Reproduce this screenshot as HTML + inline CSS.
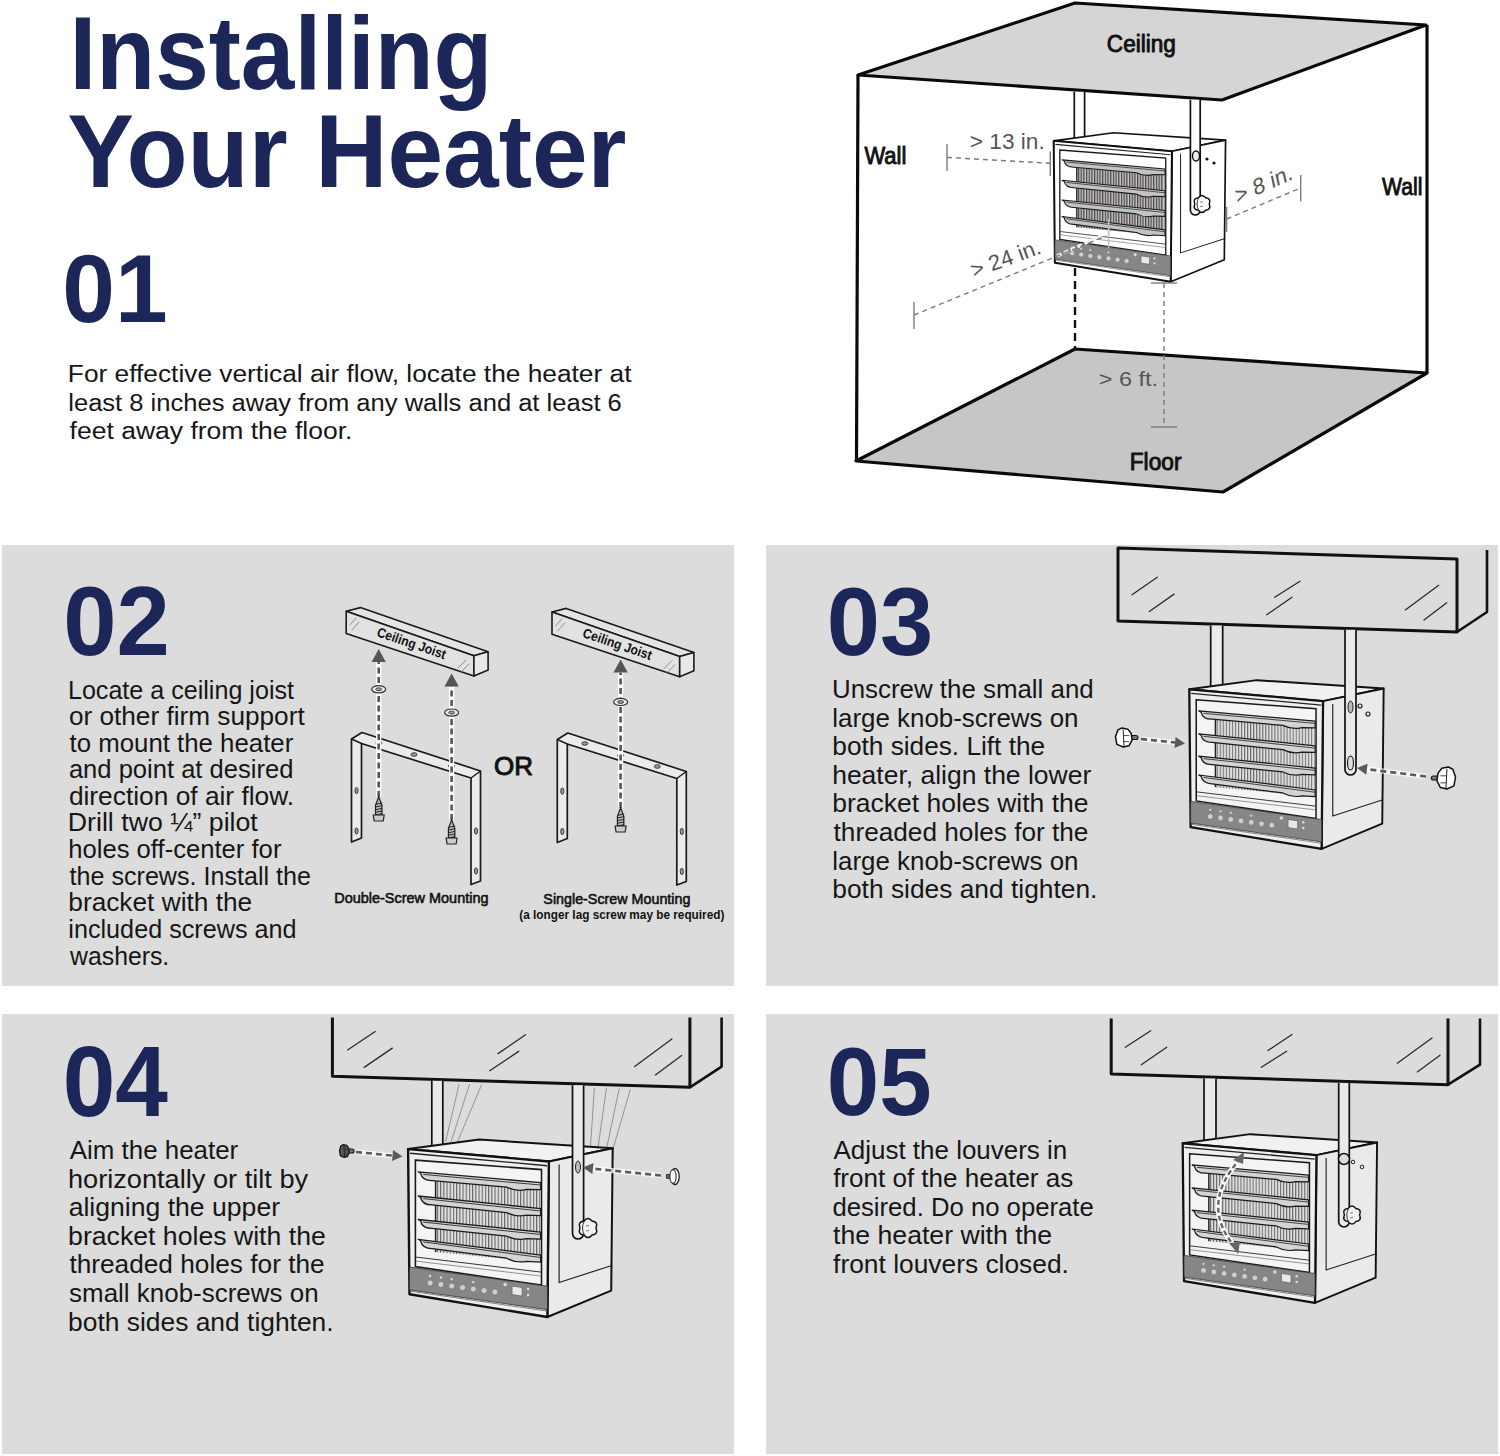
<!DOCTYPE html>
<html><head><meta charset="utf-8"><title>Installing Your Heater</title>
<style>
html,body{margin:0;padding:0;background:#fff;}
body{width:1500px;height:1456px;overflow:hidden;}
svg{display:block;font-family:"Liberation Sans",sans-serif;}
</style></head><body>
<svg width="1500" height="1456" viewBox="0 0 1500 1456">
<defs><pattern id="grille" patternUnits="userSpaceOnUse" width="3.2" height="10"><rect width="3.2" height="10" fill="#dedede"/><rect width="1.1" height="10" fill="#6a6a6a"/></pattern><pattern id="grilleD" patternUnits="userSpaceOnUse" width="3.2" height="10"><rect width="3.2" height="10" fill="#c9c6c6"/><rect width="1.5" height="10" fill="#4a4646"/></pattern><marker id="ah" viewBox="0 0 10 10" refX="9" refY="5" markerWidth="4" markerHeight="4" orient="auto-start-reverse"><path d="M0,0 L10,5 L0,10 z" fill="#555"/></marker><g id="heater"><polygon points="0,0 71.1,-9.6 204.6,-0.8 140.8,12.4" fill="#f1f1f1" stroke="#111" stroke-width="2" stroke-linejoin="round"/><polygon points="140.8,12.4 204.6,-0.8 203.1,141.5 139.3,167.9" fill="#eaeaea" stroke="#111" stroke-width="2" stroke-linejoin="round"/><polyline points="151,15.5 151,133.4 203,116.6" fill="none" stroke="#222" stroke-width="1.2"/><polygon points="0,0 140.8,12.4 139.3,167.9 1.4,145.2" fill="#efefef" stroke="#111" stroke-width="2.4" stroke-linejoin="round"/><line x1="2" y1="4.2" x2="139" y2="16.6" stroke="#222" stroke-width="1.4"/><polygon points="7.3,11 133.4,20.5 133.4,136 7.3,117.5" fill="#f4f4f4" stroke="#1a1a1a" stroke-width="1.6"/><polygon points="27,32 132,40 132,113 27,103" fill="url(#grille)"/><line x1="27.5" y1="32" x2="27.5" y2="103" stroke="#222" stroke-width="1.5"/><path d="M10.0,22.7 L132.5,33.5 L132.5,40.50 L118.50,40.27 Q108.50,42.88 98.50,38.00 L24.00,31.43 Q14.00,31.55 12.50,24.20 Z" fill="#d4d4d4" stroke="#1a1a1a" stroke-width="1.3" stroke-linejoin="round"/><line x1="15.0" y1="25.30" x2="132.5" y2="35.90" stroke="#3a3a3a" stroke-width="1"/><path d="M10.0,46.9 L132.5,59.5 L132.5,66.50 L118.50,66.06 Q108.50,68.53 98.50,63.50 L24.00,55.84 Q14.00,55.81 12.50,48.40 Z" fill="#d4d4d4" stroke="#1a1a1a" stroke-width="1.3" stroke-linejoin="round"/><line x1="15.0" y1="49.50" x2="132.5" y2="61.90" stroke="#3a3a3a" stroke-width="1"/><path d="M10.0,70.4 L132.5,83.0 L132.5,90.00 L118.50,89.56 Q108.50,92.03 98.50,87.00 L24.00,79.34 Q14.00,79.31 12.50,71.90 Z" fill="#d4d4d4" stroke="#1a1a1a" stroke-width="1.3" stroke-linejoin="round"/><line x1="15.0" y1="73.00" x2="132.5" y2="85.40" stroke="#3a3a3a" stroke-width="1"/><path d="M10.0,90.2 L132.5,106.0 L132.5,113.00 L118.50,112.19 Q108.50,114.40 98.50,109.11 L24.00,99.51 Q14.00,99.22 12.50,91.70 Z" fill="#d4d4d4" stroke="#1a1a1a" stroke-width="1.3" stroke-linejoin="round"/><line x1="15.0" y1="92.80" x2="132.5" y2="108.40" stroke="#3a3a3a" stroke-width="1"/><line x1="8" y1="108" x2="133" y2="123" stroke="#333" stroke-width="1"/><line x1="8" y1="112" x2="133" y2="127" stroke="#777" stroke-width="0.8"/><polygon points="1.4,118 139.3,137.1 139.3,160.6 1.4,140.8" fill="#868686" stroke="#333" stroke-width="0.8"/><circle cx="22.0" cy="133.9" r="3" fill="#cfcfcf" stroke="#666" stroke-width="0.6"/><circle cx="22.0" cy="126.9" r="1.2" fill="#ddd"/><circle cx="32.8" cy="135.4" r="3" fill="#cfcfcf" stroke="#666" stroke-width="0.6"/><circle cx="32.8" cy="128.4" r="1.2" fill="#ddd"/><circle cx="43.6" cy="137.0" r="3" fill="#cfcfcf" stroke="#666" stroke-width="0.6"/><circle cx="43.6" cy="130.0" r="1.2" fill="#ddd"/><circle cx="54.4" cy="138.5" r="3" fill="#cfcfcf" stroke="#666" stroke-width="0.6"/><circle cx="65.2" cy="140.0" r="3" fill="#cfcfcf" stroke="#666" stroke-width="0.6"/><circle cx="65.2" cy="133.0" r="1.2" fill="#ddd"/><circle cx="76.0" cy="141.5" r="3" fill="#cfcfcf" stroke="#666" stroke-width="0.6"/><circle cx="86.8" cy="143.0" r="3" fill="#cfcfcf" stroke="#666" stroke-width="0.6"/><polygon points="104,137 114,138.5 114,147 104,145.5" fill="#e8e8e8" stroke="#555" stroke-width="0.6"/><circle cx="97" cy="135.5" r="1.8" fill="#ddd"/><circle cx="120" cy="140" r="1.3" fill="#ddd"/><circle cx="120" cy="146" r="1.3" fill="#ddd"/><line x1="1.4" y1="142" x2="139.3" y2="162" stroke="#555" stroke-width="0.7"/></g><g id="heaterW"><polygon points="0,0 71.1,-9.6 204.6,-0.8 140.8,12.4" fill="#ffffff" stroke="#111" stroke-width="2" stroke-linejoin="round"/><polygon points="140.8,12.4 204.6,-0.8 203.1,141.5 139.3,167.9" fill="#ffffff" stroke="#111" stroke-width="2" stroke-linejoin="round"/><polyline points="151,15.5 151,133.4 203,116.6" fill="none" stroke="#222" stroke-width="1.2"/><polygon points="0,0 140.8,12.4 139.3,167.9 1.4,145.2" fill="#ffffff" stroke="#111" stroke-width="2.4" stroke-linejoin="round"/><line x1="2" y1="4.2" x2="139" y2="16.6" stroke="#222" stroke-width="1.4"/><polygon points="7.3,11 133.4,20.5 133.4,136 7.3,117.5" fill="#ffffff" stroke="#1a1a1a" stroke-width="1.6"/><polygon points="27,32 132,40 132,113 27,103" fill="url(#grilleD)"/><line x1="27.5" y1="32" x2="27.5" y2="103" stroke="#222" stroke-width="1.5"/><path d="M10.0,22.7 L132.5,33.5 L132.5,40.50 L118.50,40.27 Q108.50,42.88 98.50,38.00 L24.00,31.43 Q14.00,31.55 12.50,24.20 Z" fill="#c4c4c4" stroke="#1a1a1a" stroke-width="1.3" stroke-linejoin="round"/><line x1="15.0" y1="25.30" x2="132.5" y2="35.90" stroke="#3a3a3a" stroke-width="1"/><path d="M10.0,46.9 L132.5,59.5 L132.5,66.50 L118.50,66.06 Q108.50,68.53 98.50,63.50 L24.00,55.84 Q14.00,55.81 12.50,48.40 Z" fill="#c4c4c4" stroke="#1a1a1a" stroke-width="1.3" stroke-linejoin="round"/><line x1="15.0" y1="49.50" x2="132.5" y2="61.90" stroke="#3a3a3a" stroke-width="1"/><path d="M10.0,70.4 L132.5,83.0 L132.5,90.00 L118.50,89.56 Q108.50,92.03 98.50,87.00 L24.00,79.34 Q14.00,79.31 12.50,71.90 Z" fill="#c4c4c4" stroke="#1a1a1a" stroke-width="1.3" stroke-linejoin="round"/><line x1="15.0" y1="73.00" x2="132.5" y2="85.40" stroke="#3a3a3a" stroke-width="1"/><path d="M10.0,90.2 L132.5,106.0 L132.5,113.00 L118.50,112.19 Q108.50,114.40 98.50,109.11 L24.00,99.51 Q14.00,99.22 12.50,91.70 Z" fill="#c4c4c4" stroke="#1a1a1a" stroke-width="1.3" stroke-linejoin="round"/><line x1="15.0" y1="92.80" x2="132.5" y2="108.40" stroke="#3a3a3a" stroke-width="1"/><line x1="8" y1="108" x2="133" y2="123" stroke="#333" stroke-width="1"/><line x1="8" y1="112" x2="133" y2="127" stroke="#777" stroke-width="0.8"/><polygon points="1.4,118 139.3,137.1 139.3,160.6 1.4,140.8" fill="#868686" stroke="#333" stroke-width="0.8"/><circle cx="22.0" cy="133.9" r="3" fill="#cfcfcf" stroke="#666" stroke-width="0.6"/><circle cx="22.0" cy="126.9" r="1.2" fill="#ddd"/><circle cx="32.8" cy="135.4" r="3" fill="#cfcfcf" stroke="#666" stroke-width="0.6"/><circle cx="32.8" cy="128.4" r="1.2" fill="#ddd"/><circle cx="43.6" cy="137.0" r="3" fill="#cfcfcf" stroke="#666" stroke-width="0.6"/><circle cx="43.6" cy="130.0" r="1.2" fill="#ddd"/><circle cx="54.4" cy="138.5" r="3" fill="#cfcfcf" stroke="#666" stroke-width="0.6"/><circle cx="65.2" cy="140.0" r="3" fill="#cfcfcf" stroke="#666" stroke-width="0.6"/><circle cx="65.2" cy="133.0" r="1.2" fill="#ddd"/><circle cx="76.0" cy="141.5" r="3" fill="#cfcfcf" stroke="#666" stroke-width="0.6"/><circle cx="86.8" cy="143.0" r="3" fill="#cfcfcf" stroke="#666" stroke-width="0.6"/><polygon points="104,137 114,138.5 114,147 104,145.5" fill="#e8e8e8" stroke="#555" stroke-width="0.6"/><circle cx="97" cy="135.5" r="1.8" fill="#ddd"/><circle cx="120" cy="140" r="1.3" fill="#ddd"/><circle cx="120" cy="146" r="1.3" fill="#ddd"/><line x1="1.4" y1="142" x2="139.3" y2="162" stroke="#555" stroke-width="0.7"/></g></defs>
<rect x="2" y="545" width="732" height="441" fill="#dcdcdc"/>
<rect x="766" y="545" width="732" height="441" fill="#dcdcdc"/>
<rect x="2" y="1014" width="732" height="440" fill="#dcdcdc"/>
<rect x="766" y="1014" width="732" height="440" fill="#dcdcdc"/>
<text x="69.55" y="89.00" font-size="103" font-weight="bold" fill="#1d2659" textLength="422.89" lengthAdjust="spacingAndGlyphs" >Installing</text>
<text x="67.31" y="187.00" font-size="103" font-weight="bold" fill="#1d2659" textLength="559.18" lengthAdjust="spacingAndGlyphs" >Your Heater</text>
<text x="62.25" y="322.06" font-size="96.05" font-weight="bold" fill="#1d2659" textLength="105.38" lengthAdjust="spacingAndGlyphs" >01</text>
<text x="63.21" y="655.04" font-size="97.46" font-weight="bold" fill="#1d2659" textLength="106.63" lengthAdjust="spacingAndGlyphs" >02</text>
<text x="826.72" y="655.45" font-size="97.32" font-weight="bold" fill="#1d2659" textLength="106.44" lengthAdjust="spacingAndGlyphs" >03</text>
<text x="62.76" y="1115.83" font-size="99.29" font-weight="bold" fill="#1d2659" textLength="105.25" lengthAdjust="spacingAndGlyphs" >04</text>
<text x="826.87" y="1115.05" font-size="96.89" font-weight="bold" fill="#1d2659" textLength="104.96" lengthAdjust="spacingAndGlyphs" >05</text>
<text x="67.85" y="382.00" font-size="23.5" font-weight="normal" fill="#161616" textLength="563.64" lengthAdjust="spacingAndGlyphs" >For effective vertical air flow, locate the heater at</text>
<text x="68.28" y="410.50" font-size="23.5" font-weight="normal" fill="#161616" textLength="553.54" lengthAdjust="spacingAndGlyphs" >least 8 inches away from any walls and at least 6</text>
<text x="69.63" y="439.00" font-size="23.5" font-weight="normal" fill="#161616" textLength="282.78" lengthAdjust="spacingAndGlyphs" >feet away from the floor.</text>
<text x="67.94" y="698.70" font-size="26" font-weight="normal" fill="#161616" textLength="226.04" lengthAdjust="spacingAndGlyphs" >Locate a ceiling joist</text>
<text x="68.90" y="725.20" font-size="26" font-weight="normal" fill="#161616" textLength="235.79" lengthAdjust="spacingAndGlyphs" >or other firm support</text>
<text x="69.61" y="751.70" font-size="26" font-weight="normal" fill="#161616" textLength="223.62" lengthAdjust="spacingAndGlyphs" >to mount the heater</text>
<text x="68.91" y="778.20" font-size="26" font-weight="normal" fill="#161616" textLength="224.43" lengthAdjust="spacingAndGlyphs" >and point at desired</text>
<text x="68.90" y="804.70" font-size="26" font-weight="normal" fill="#161616" textLength="225.18" lengthAdjust="spacingAndGlyphs" >direction of air flow.</text>
<text x="67.81" y="831.40" font-size="26" font-weight="normal" fill="#161616" textLength="189.99" lengthAdjust="spacingAndGlyphs" >Drill two ¼” pilot</text>
<text x="68.23" y="858.00" font-size="26" font-weight="normal" fill="#161616" textLength="213.20" lengthAdjust="spacingAndGlyphs" >holes off-center for</text>
<text x="69.62" y="884.60" font-size="26" font-weight="normal" fill="#161616" textLength="241.29" lengthAdjust="spacingAndGlyphs" >the screws. Install the</text>
<text x="68.31" y="911.20" font-size="26" font-weight="normal" fill="#161616" textLength="183.86" lengthAdjust="spacingAndGlyphs" >bracket with the</text>
<text x="68.31" y="937.80" font-size="26" font-weight="normal" fill="#161616" textLength="228.31" lengthAdjust="spacingAndGlyphs" >included screws and</text>
<text x="70.04" y="964.50" font-size="26" font-weight="normal" fill="#161616" textLength="99.23" lengthAdjust="spacingAndGlyphs" >washers.</text>
<text x="832.00" y="698.00" font-size="26" font-weight="normal" fill="#161616" textLength="261.66" lengthAdjust="spacingAndGlyphs" >Unscrew the small and</text>
<text x="832.25" y="726.60" font-size="26" font-weight="normal" fill="#161616" textLength="246.23" lengthAdjust="spacingAndGlyphs" >large knob-screws on</text>
<text x="832.31" y="755.20" font-size="26" font-weight="normal" fill="#161616" textLength="212.86" lengthAdjust="spacingAndGlyphs" >both sides. Lift the</text>
<text x="832.17" y="783.80" font-size="26" font-weight="normal" fill="#161616" textLength="259.06" lengthAdjust="spacingAndGlyphs" >heater, align the lower</text>
<text x="832.29" y="812.40" font-size="26" font-weight="normal" fill="#161616" textLength="256.18" lengthAdjust="spacingAndGlyphs" >bracket holes with the</text>
<text x="833.60" y="841.00" font-size="26" font-weight="normal" fill="#161616" textLength="254.86" lengthAdjust="spacingAndGlyphs" >threaded holes for the</text>
<text x="832.25" y="869.60" font-size="26" font-weight="normal" fill="#161616" textLength="246.23" lengthAdjust="spacingAndGlyphs" >large knob-screws on</text>
<text x="832.30" y="898.20" font-size="26" font-weight="normal" fill="#161616" textLength="265.10" lengthAdjust="spacingAndGlyphs" >both sides and tighten.</text>
<text x="69.75" y="1159.20" font-size="26" font-weight="normal" fill="#161616" textLength="168.48" lengthAdjust="spacingAndGlyphs" >Aim the heater</text>
<text x="67.92" y="1187.75" font-size="26" font-weight="normal" fill="#161616" textLength="240.24" lengthAdjust="spacingAndGlyphs" >horizontally or tilt by</text>
<text x="68.67" y="1216.30" font-size="26" font-weight="normal" fill="#161616" textLength="211.37" lengthAdjust="spacingAndGlyphs" >aligning the upper</text>
<text x="68.08" y="1244.85" font-size="26" font-weight="normal" fill="#161616" textLength="257.70" lengthAdjust="spacingAndGlyphs" >bracket holes with the</text>
<text x="69.40" y="1273.40" font-size="26" font-weight="normal" fill="#161616" textLength="255.26" lengthAdjust="spacingAndGlyphs" >threaded holes for the</text>
<text x="69.08" y="1301.95" font-size="26" font-weight="normal" fill="#161616" textLength="249.51" lengthAdjust="spacingAndGlyphs" >small knob-screws on</text>
<text x="68.10" y="1330.50" font-size="26" font-weight="normal" fill="#161616" textLength="265.51" lengthAdjust="spacingAndGlyphs" >both sides and tighten.</text>
<text x="833.45" y="1158.60" font-size="26" font-weight="normal" fill="#161616" textLength="233.84" lengthAdjust="spacingAndGlyphs" >Adjust the louvers in</text>
<text x="833.13" y="1187.15" font-size="26" font-weight="normal" fill="#161616" textLength="240.11" lengthAdjust="spacingAndGlyphs" >front of the heater as</text>
<text x="832.42" y="1215.70" font-size="26" font-weight="normal" fill="#161616" textLength="261.32" lengthAdjust="spacingAndGlyphs" >desired. Do no operate</text>
<text x="833.10" y="1244.25" font-size="26" font-weight="normal" fill="#161616" textLength="219.09" lengthAdjust="spacingAndGlyphs" >the heater with the</text>
<text x="833.13" y="1272.80" font-size="26" font-weight="normal" fill="#161616" textLength="235.78" lengthAdjust="spacingAndGlyphs" >front louvers closed.</text>
<polygon points="858,75 1075,3 1426,25 1222,100" fill="#d5d5d5" stroke="#0a0a0a" stroke-width="3.2" stroke-linejoin="round"/><polygon points="856,461 1075,349 1427,373 1223,492" fill="#c6c6c6" stroke="#0a0a0a" stroke-width="3.2" stroke-linejoin="round"/><line x1="858" y1="75" x2="856.5" y2="461" stroke="#0a0a0a" stroke-width="3.2"/><line x1="1427" y1="25" x2="1427" y2="373" stroke="#0a0a0a" stroke-width="3.2"/><line x1="1075" y1="268" x2="1075" y2="349" stroke="#111" stroke-width="2.4" stroke-dasharray="8,5"/><rect x="1074.3" y="91.8" width="10.299999999999955" height="48.2" fill="#fff"/><path d="M1074.3,91.8 L1074.3,140 M1084.6,140 L1084.6,91.8" fill="none" stroke="#111" stroke-width="1.7"/><use href="#heaterW" transform="translate(1053.7,140.8) scale(0.84)"/><line x1="1057" y1="256" x2="1102" y2="235.5" stroke="#f4f4f4" stroke-width="3.2" stroke-dasharray="5,2.5"/><line x1="1108.6" y1="219" x2="1108.6" y2="248" stroke="#bdbdbd" stroke-width="1.6"/><path d="M1190.4,99.8 L1190.4,210.10000000000002 A4.899999999999977,4.899999999999977 0 0 0 1200.2,210.10000000000002 L1200.2,99.8 Z" fill="#fff"/><path d="M1190.4,99.8 L1190.4,210.10000000000002 A4.899999999999977,4.899999999999977 0 0 0 1200.2,210.10000000000002 L1200.2,99.8" fill="none" stroke="#111" stroke-width="1.7"/><path d="M1205.60,197.76 Q1211.51,198.51 1209.20,204.00 Q1211.51,209.49 1205.60,210.24 Q1202.00,214.98 1198.40,210.24 Q1192.49,209.49 1194.80,204.00 Q1192.49,198.51 1198.40,197.76 Q1202.00,193.02 1205.60,197.76 Z" fill="#fff" stroke="#111" stroke-width="1.5" stroke-linejoin="round"/><path d="M1198.85,197.25 Q1195.25,204.00 1198.85,210.75" fill="none" stroke="#333" stroke-width="1"/><path d="M1200.20,202.20 L1202.90,201.75 M1200.20,206.70 L1202.90,206.25" fill="none" stroke="#555" stroke-width="0.8"/><ellipse cx="1196" cy="156" rx="3.5" ry="5" fill="#eee" stroke="#111" stroke-width="1.4"/><circle cx="1207" cy="159" r="1.6" fill="#111"/><circle cx="1214" cy="163" r="1.6" fill="#111"/><line x1="947" y1="144" x2="947" y2="171" stroke="#7a7a7a" stroke-width="1.4"/><line x1="947" y1="157.4" x2="1050" y2="163.3" stroke="#7a7a7a" stroke-width="1.4" stroke-dasharray="5,4"/><line x1="1050.3" y1="151.5" x2="1050.3" y2="176" stroke="#7a7a7a" stroke-width="1.4"/><line x1="1226.6" y1="207" x2="1226.6" y2="232" stroke="#7a7a7a" stroke-width="1.4"/><line x1="1226.6" y1="219" x2="1300.7" y2="188" stroke="#7a7a7a" stroke-width="1.4" stroke-dasharray="5,4"/><line x1="1300.7" y1="175" x2="1300.7" y2="201.3" stroke="#7a7a7a" stroke-width="1.4"/><line x1="914" y1="302" x2="914" y2="329" stroke="#7a7a7a" stroke-width="1.4"/><line x1="914" y1="315" x2="1106" y2="236" stroke="#7a7a7a" stroke-width="1.4" stroke-dasharray="5,4"/><line x1="1164" y1="283" x2="1164" y2="427" stroke="#7a7a7a" stroke-width="1.4" stroke-dasharray="5,4"/><line x1="1151" y1="283" x2="1177" y2="283" stroke="#7a7a7a" stroke-width="1.4"/><line x1="1151" y1="427" x2="1177" y2="427" stroke="#7a7a7a" stroke-width="1.4"/><text stroke="#111" stroke-width="0.9" stroke-linejoin="round" x="1106.86" y="51.80" font-size="23" font-weight="normal" fill="#111" textLength="68.90" lengthAdjust="spacingAndGlyphs">Ceiling</text><text stroke="#111" stroke-width="0.9" stroke-linejoin="round" x="864.41" y="164.00" font-size="23" font-weight="normal" fill="#111" textLength="41.94" lengthAdjust="spacingAndGlyphs">Wall</text><text stroke="#111" stroke-width="0.9" stroke-linejoin="round" x="1381.91" y="194.70" font-size="23" font-weight="normal" fill="#111" textLength="40.48" lengthAdjust="spacingAndGlyphs">Wall</text><text stroke="#111" stroke-width="0.9" stroke-linejoin="round" x="1129.74" y="469.70" font-size="23" font-weight="normal" fill="#111" textLength="51.74" lengthAdjust="spacingAndGlyphs">Floor</text><text x="969.78" y="148.60" font-size="22" font-weight="normal" fill="#555" textLength="74.99" lengthAdjust="spacingAndGlyphs">&gt; 13 in.</text><text x="1098.84" y="386.00" font-size="19.5" font-weight="normal" fill="#555" textLength="59.30" lengthAdjust="spacingAndGlyphs">&gt; 6 ft.</text><text x="0.00" y="0.00" font-size="22" font-weight="normal" fill="#555" textLength="62.00" lengthAdjust="spacingAndGlyphs" transform="translate(1237,204) rotate(-24) skewX(-12)">&gt; 8 in.</text><text x="0.00" y="0.00" font-size="22" font-weight="normal" fill="#555" textLength="73.00" lengthAdjust="spacingAndGlyphs" transform="translate(974,278) rotate(-20)">&gt; 24 in.</text>
<polygon points="346.2,611.2 360.4,607.6 488.1,651.8 473.9,655.8" fill="#e4e4e4" stroke="#1a1a1a" stroke-width="1.6" stroke-linejoin="round"/><polygon points="346.2,611.2 473.9,655.8 473.9,676.0 346.2,633.5" fill="#e2e2e2" stroke="#1a1a1a" stroke-width="1.6" stroke-linejoin="round"/><polygon points="473.9,655.8 488.1,651.8 488.1,670.0 473.9,676.0" fill="#e8e8e8" stroke="#1a1a1a" stroke-width="1.6" stroke-linejoin="round"/><line x1="350" y1="625" x2="356" y2="618" stroke="#777" stroke-width="0.8" stroke-linecap="round"/><line x1="352" y1="630" x2="359" y2="622" stroke="#777" stroke-width="0.8" stroke-linecap="round"/><line x1="458" y1="668" x2="466" y2="660" stroke="#777" stroke-width="0.8" stroke-linecap="round"/><line x1="461" y1="672" x2="469" y2="664" stroke="#777" stroke-width="0.8" stroke-linecap="round"/><text x="0.00" y="0.00" font-size="13.5" font-weight="bold" fill="#111" textLength="72.00" lengthAdjust="spacingAndGlyphs" transform="translate(376,636) rotate(18.8)">Ceiling Joist</text><polygon points="552.0,612.0 566.2,608.4 693.9,652.6 679.7,656.6" fill="#e4e4e4" stroke="#1a1a1a" stroke-width="1.6" stroke-linejoin="round"/><polygon points="552.0,612.0 679.7,656.6 679.7,676.8 552.0,634.3" fill="#e2e2e2" stroke="#1a1a1a" stroke-width="1.6" stroke-linejoin="round"/><polygon points="679.7,656.6 693.9,652.6 693.9,670.8 679.7,676.8" fill="#e8e8e8" stroke="#1a1a1a" stroke-width="1.6" stroke-linejoin="round"/><line x1="555.8" y1="625.8" x2="561.8" y2="618.8" stroke="#777" stroke-width="0.8" stroke-linecap="round"/><line x1="557.8" y1="630.8" x2="564.8" y2="622.8" stroke="#777" stroke-width="0.8" stroke-linecap="round"/><line x1="663.8" y1="668.8" x2="671.8" y2="660.8" stroke="#777" stroke-width="0.8" stroke-linecap="round"/><line x1="666.8" y1="672.8" x2="674.8" y2="664.8" stroke="#777" stroke-width="0.8" stroke-linecap="round"/><text x="0.00" y="0.00" font-size="13.5" font-weight="bold" fill="#111" textLength="72.00" lengthAdjust="spacingAndGlyphs" transform="translate(581.8,636.8) rotate(18.8)">Ceiling Joist</text><polygon points="351.5,842.0 351.5,739.0 362.0,732.5 480.5,771.0 480.5,881.0 471.0,884.5 471.0,778.0 361.5,743.5 361.5,838.0" fill="#ebebeb" stroke="#1a1a1a" stroke-width="1.7" stroke-linejoin="round"/><line x1="351.5" y1="739" x2="361.5" y2="743.5" stroke="#1a1a1a" stroke-width="1.4"/><line x1="471" y1="778" x2="480.5" y2="771" stroke="#1a1a1a" stroke-width="1.4"/><ellipse cx="379" cy="743" rx="3" ry="1.8" fill="#999" stroke="#222" stroke-width="0.8"/><ellipse cx="414" cy="754.5" rx="3" ry="1.8" fill="#999" stroke="#222" stroke-width="0.8"/><ellipse cx="451.5" cy="766" rx="3" ry="1.8" fill="#999" stroke="#222" stroke-width="0.8"/><ellipse cx="356.5" cy="790.6" rx="1.6" ry="3.2" fill="#999" stroke="#222" stroke-width="0.8"/><ellipse cx="356.5" cy="831" rx="1.6" ry="3.2" fill="#999" stroke="#222" stroke-width="0.8"/><ellipse cx="476" cy="831" rx="1.6" ry="3.2" fill="#999" stroke="#222" stroke-width="0.8"/><ellipse cx="476" cy="871" rx="1.6" ry="3.2" fill="#999" stroke="#222" stroke-width="0.8"/><polygon points="557.3,842.5 557.3,739.5 567.8,733.0 686.3,771.5 686.3,881.5 676.8,885.0 676.8,778.5 567.3,744.0 567.3,838.5" fill="#ebebeb" stroke="#1a1a1a" stroke-width="1.7" stroke-linejoin="round"/><line x1="557.3" y1="739.5" x2="567.3" y2="744.0" stroke="#1a1a1a" stroke-width="1.4"/><line x1="676.8" y1="778.5" x2="686.3" y2="771.5" stroke="#1a1a1a" stroke-width="1.4"/><ellipse cx="584.8" cy="743.5" rx="3" ry="1.8" fill="#999" stroke="#222" stroke-width="0.8"/><ellipse cx="620.6" cy="755.5" rx="3" ry="1.8" fill="#999" stroke="#222" stroke-width="0.8"/><ellipse cx="657.3" cy="766.5" rx="3" ry="1.8" fill="#999" stroke="#222" stroke-width="0.8"/><ellipse cx="562.3" cy="791.1" rx="1.6" ry="3.2" fill="#999" stroke="#222" stroke-width="0.8"/><ellipse cx="562.3" cy="831.5" rx="1.6" ry="3.2" fill="#999" stroke="#222" stroke-width="0.8"/><ellipse cx="681.8" cy="831.5" rx="1.6" ry="3.2" fill="#999" stroke="#222" stroke-width="0.8"/><ellipse cx="681.8" cy="871.5" rx="1.6" ry="3.2" fill="#999" stroke="#222" stroke-width="0.8"/><line x1="378.7" y1="797" x2="378.7" y2="661" stroke="#fff" stroke-width="5"/><line x1="378.7" y1="797" x2="378.7" y2="662.0" stroke="#fff" stroke-opacity="0.75" stroke-width="5.2"/><line x1="378.7" y1="797" x2="378.7" y2="662.0" stroke="#555" stroke-width="2.6" stroke-dasharray="6,3.5"/><polygon points="378.7,649 385.8,662.0 371.6,662.0" fill="#555"/><ellipse cx="378.7" cy="689.3" rx="7" ry="3.6" fill="#eee" stroke="#333" stroke-width="1.2"/><ellipse cx="378.7" cy="689.3" rx="3" ry="1.5" fill="#999" stroke="#333" stroke-width="0.8"/><path d="M378.7,797 L381.9,805.4 L381.9,815 L375.5,815 L375.5,805.4 Z" fill="#bbb" stroke="#222" stroke-width="1.2"/><line x1="375.09999999999997" y1="804.5" x2="382.3" y2="803.0" stroke="#222" stroke-width="1"/><line x1="375.09999999999997" y1="807.1" x2="382.3" y2="805.6" stroke="#222" stroke-width="1"/><line x1="375.09999999999997" y1="809.8" x2="382.3" y2="808.3" stroke="#222" stroke-width="1"/><line x1="375.09999999999997" y1="812.4" x2="382.3" y2="810.9" stroke="#222" stroke-width="1"/><line x1="375.09999999999997" y1="815.1" x2="382.3" y2="813.6" stroke="#222" stroke-width="1"/><path d="M373.2,815 L384.2,815 L383.2,821 L374.2,821 Z" fill="#ccc" stroke="#222" stroke-width="1.2"/><line x1="451.6" y1="820" x2="451.6" y2="685.5" stroke="#fff" stroke-width="5"/><line x1="451.6" y1="820" x2="451.6" y2="686.5" stroke="#fff" stroke-opacity="0.75" stroke-width="5.2"/><line x1="451.6" y1="820" x2="451.6" y2="686.5" stroke="#555" stroke-width="2.6" stroke-dasharray="6,3.5"/><polygon points="451.6,673.5 458.8,686.5 444.5,686.5" fill="#555"/><ellipse cx="451.6" cy="712.6" rx="7" ry="3.6" fill="#eee" stroke="#333" stroke-width="1.2"/><ellipse cx="451.6" cy="712.6" rx="3" ry="1.5" fill="#999" stroke="#333" stroke-width="0.8"/><path d="M451.6,820 L454.8,828.4 L454.8,838 L448.40000000000003,838 L448.40000000000003,828.4 Z" fill="#bbb" stroke="#222" stroke-width="1.2"/><line x1="448.0" y1="827.5" x2="455.20000000000005" y2="826.0" stroke="#222" stroke-width="1"/><line x1="448.0" y1="830.1" x2="455.20000000000005" y2="828.6" stroke="#222" stroke-width="1"/><line x1="448.0" y1="832.8" x2="455.20000000000005" y2="831.3" stroke="#222" stroke-width="1"/><line x1="448.0" y1="835.4" x2="455.20000000000005" y2="833.9" stroke="#222" stroke-width="1"/><line x1="448.0" y1="838.1" x2="455.20000000000005" y2="836.6" stroke="#222" stroke-width="1"/><path d="M446.1,838 L457.1,838 L456.1,844 L447.1,844 Z" fill="#ccc" stroke="#222" stroke-width="1.2"/><line x1="620.6" y1="808" x2="620.6" y2="671.5" stroke="#fff" stroke-width="5"/><line x1="620.6" y1="808" x2="620.6" y2="672.5" stroke="#fff" stroke-opacity="0.75" stroke-width="5.2"/><line x1="620.6" y1="808" x2="620.6" y2="672.5" stroke="#555" stroke-width="2.6" stroke-dasharray="6,3.5"/><polygon points="620.6,659.5 627.8,672.5 613.5,672.5" fill="#555"/><ellipse cx="620.6" cy="702" rx="7" ry="3.6" fill="#eee" stroke="#333" stroke-width="1.2"/><ellipse cx="620.6" cy="702" rx="3" ry="1.5" fill="#999" stroke="#333" stroke-width="0.8"/><path d="M620.6,808 L623.8000000000001,816.4 L623.8000000000001,826 L617.4,826 L617.4,816.4 Z" fill="#bbb" stroke="#222" stroke-width="1.2"/><line x1="617.0" y1="815.5" x2="624.2" y2="814.0" stroke="#222" stroke-width="1"/><line x1="617.0" y1="818.1" x2="624.2" y2="816.6" stroke="#222" stroke-width="1"/><line x1="617.0" y1="820.8" x2="624.2" y2="819.3" stroke="#222" stroke-width="1"/><line x1="617.0" y1="823.4" x2="624.2" y2="821.9" stroke="#222" stroke-width="1"/><line x1="617.0" y1="826.1" x2="624.2" y2="824.6" stroke="#222" stroke-width="1"/><path d="M615.1,826 L626.1,826 L625.1,832 L616.1,832 Z" fill="#ccc" stroke="#222" stroke-width="1.2"/><text stroke="#111" stroke-width="1.0" stroke-linejoin="round" x="493.97" y="775.40" font-size="26" font-weight="normal" fill="#111" textLength="38.93" lengthAdjust="spacingAndGlyphs">OR</text><text stroke="#111" stroke-width="0.6" stroke-linejoin="round" x="334.21" y="902.90" font-size="15.5" font-weight="normal" fill="#111" textLength="154.32" lengthAdjust="spacingAndGlyphs">Double-Screw Mounting</text><text stroke="#111" stroke-width="0.6" stroke-linejoin="round" x="543.35" y="904.20" font-size="15.5" font-weight="normal" fill="#111" textLength="147.07" lengthAdjust="spacingAndGlyphs">Single-Screw Mounting</text><text x="519.31" y="919.00" font-size="12.5" font-weight="bold" fill="#111" textLength="205.07" lengthAdjust="spacingAndGlyphs">(a longer lag screw may be required)</text>
<polygon points="1118,548 1457,559 1457,632 1118,621" fill="#dcdcdc" stroke="#111" stroke-width="3" stroke-linejoin="round"/><polyline points="1457,632 1487,612 1487,550" fill="none" stroke="#111" stroke-width="2.6" stroke-linejoin="round"/><line x1="1132" y1="594.7" x2="1157.3" y2="577.3" stroke="#2a2a2a" stroke-width="1.3" stroke-linecap="round"/><line x1="1149.3" y1="611.5" x2="1174.1" y2="594.1" stroke="#2a2a2a" stroke-width="1.3" stroke-linecap="round"/><line x1="1274.7" y1="597.3" x2="1300" y2="581.3" stroke="#2a2a2a" stroke-width="1.3" stroke-linecap="round"/><line x1="1266.7" y1="614.7" x2="1292" y2="597.3" stroke="#2a2a2a" stroke-width="1.3" stroke-linecap="round"/><line x1="1405.3" y1="609.9" x2="1438.7" y2="585.3" stroke="#2a2a2a" stroke-width="1.3" stroke-linecap="round"/><line x1="1424" y1="620" x2="1446.7" y2="602.7" stroke="#2a2a2a" stroke-width="1.3" stroke-linecap="round"/><rect x="1210.7" y="625.5" width="12.0" height="64.5" fill="#e9e9e9"/><path d="M1210.7,625.5 L1210.7,690 M1222.7,690 L1222.7,625.5" fill="none" stroke="#111" stroke-width="1.7"/><use href="#heater" transform="translate(1189.3,689.3) scale(0.95)"/><path d="M1345,629.8 L1345,769.5 A5.5,5.5 0 0 0 1356,769.5 L1356,629.8 Z" fill="#e9e9e9"/><path d="M1345,629.8 L1345,769.5 A5.5,5.5 0 0 0 1356,769.5 L1356,629.8" fill="none" stroke="#111" stroke-width="1.7"/><ellipse cx="1350.5" cy="707" rx="2.5" ry="6" fill="#bbb" stroke="#222" stroke-width="1"/><ellipse cx="1350.5" cy="763" rx="3" ry="7" fill="#ddd" stroke="#222" stroke-width="1.2"/><circle cx="1360" cy="706" r="2" fill="none" stroke="#222" stroke-width="1.2"/><circle cx="1368" cy="714" r="2" fill="none" stroke="#222" stroke-width="1.2"/><line x1="1141" y1="739" x2="1175.1" y2="742.5" stroke="#fff" stroke-opacity="0.75" stroke-width="5.2"/><line x1="1141" y1="739" x2="1175.1" y2="742.5" stroke="#5a5a5a" stroke-width="2.6" stroke-dasharray="6,4"/><polygon points="1185,743.5 1174.5,748.0 1175.6,737.0" fill="#5a5a5a"/><rect x="1129.95" y="735.50" width="8.00" height="4" rx="2" fill="#777" stroke="#111" stroke-width="1.1"/><polygon points="1127.74,729.14 1121.96,728.00 1117.88,729.90 1115.50,736.55 1116.86,744.34 1123.15,747.00 1129.10,745.67 1132.16,739.78 1131.14,733.32" fill="#fff" stroke="#111" stroke-width="1.5" stroke-linejoin="round"/><line x1="1123.15" y1="729.52" x2="1124.00" y2="746.24" stroke="#222" stroke-width="1"/><line x1="1129.10" y1="735.60" x2="1123.66" y2="735.60" stroke="#333" stroke-width="0.9"/><line x1="1129.10" y1="741.68" x2="1123.66" y2="741.68" stroke="#333" stroke-width="0.9"/><line x1="1426" y1="776.5" x2="1366.9" y2="769.2" stroke="#fff" stroke-opacity="0.75" stroke-width="5.2"/><line x1="1426" y1="776.5" x2="1366.9" y2="769.2" stroke="#5a5a5a" stroke-width="2.6" stroke-dasharray="6,4"/><polygon points="1357,768 1367.6,763.8 1366.3,774.7" fill="#5a5a5a"/><rect x="1431.35" y="776.00" width="8.00" height="4" rx="2" fill="#777" stroke="#111" stroke-width="1.1"/><polygon points="1441.82,768.32 1448.28,767.00 1452.84,769.20 1455.50,776.90 1453.98,785.92 1446.95,789.00 1440.30,787.46 1436.88,780.64 1438.02,773.16" fill="#fff" stroke="#111" stroke-width="1.5" stroke-linejoin="round"/><line x1="1446.95" y1="768.76" x2="1446.00" y2="788.12" stroke="#222" stroke-width="1"/><line x1="1440.30" y1="775.80" x2="1446.38" y2="775.80" stroke="#333" stroke-width="0.9"/><line x1="1440.30" y1="782.84" x2="1446.38" y2="782.84" stroke="#333" stroke-width="0.9"/>
<polyline points="332.4,1017.5 332.4,1076.2 689.9,1087.3 689.9,1017.5" fill="none" stroke="#111" stroke-width="3" stroke-linejoin="round"/><polyline points="689.9,1087.3 721.6,1066.6 721.6,1017.5" fill="none" stroke="#111" stroke-width="2.6" stroke-linejoin="round"/><line x1="347.6" y1="1050" x2="375.2" y2="1031.5" stroke="#2a2a2a" stroke-width="1.3" stroke-linecap="round"/><line x1="364.2" y1="1067.4" x2="392.3" y2="1048.1" stroke="#2a2a2a" stroke-width="1.3" stroke-linecap="round"/><line x1="498" y1="1053.6" x2="525.6" y2="1034.8" stroke="#2a2a2a" stroke-width="1.3" stroke-linecap="round"/><line x1="489.7" y1="1070.7" x2="518.7" y2="1051.4" stroke="#2a2a2a" stroke-width="1.3" stroke-linecap="round"/><line x1="634.7" y1="1066.6" x2="671.9" y2="1039" stroke="#2a2a2a" stroke-width="1.3" stroke-linecap="round"/><line x1="655.4" y1="1074.9" x2="681.6" y2="1055.5" stroke="#2a2a2a" stroke-width="1.3" stroke-linecap="round"/><line x1="459.2" y1="1084" x2="445.6" y2="1141.6" stroke="#8a8a8a" stroke-width="0.9"/><line x1="469.6" y1="1084" x2="451.2" y2="1141.6" stroke="#8a8a8a" stroke-width="0.9"/><line x1="481.6" y1="1084.8" x2="457.6" y2="1141.6" stroke="#8a8a8a" stroke-width="0.9"/><line x1="594.4" y1="1088" x2="585.6" y2="1219.2" stroke="#8a8a8a" stroke-width="0.9"/><line x1="606.4" y1="1088" x2="588" y2="1219.2" stroke="#8a8a8a" stroke-width="0.9"/><line x1="619.2" y1="1088.5" x2="592" y2="1217.6" stroke="#8a8a8a" stroke-width="0.9"/><line x1="630.4" y1="1089" x2="593.6" y2="1216" stroke="#8a8a8a" stroke-width="0.9"/><rect x="431.8" y="1080.8" width="11.0" height="66.20000000000005" fill="#e9e9e9"/><path d="M431.8,1080.8 L431.8,1147 M442.8,1147 L442.8,1080.8" fill="none" stroke="#111" stroke-width="1.7"/><use href="#heater" transform="translate(408.1,1149.1) scale(1.0)"/><path d="M572.5,1085.3 L572.5,1233.45 A5.550000000000011,5.550000000000011 0 0 0 583.6,1233.45 L583.6,1085.3 Z" fill="#e9e9e9"/><path d="M572.5,1085.3 L572.5,1233.45 A5.550000000000011,5.550000000000011 0 0 0 583.6,1233.45 L583.6,1085.3" fill="none" stroke="#111" stroke-width="1.7"/><ellipse cx="578" cy="1167" rx="2.5" ry="6" fill="#bbb" stroke="#222" stroke-width="1"/><path d="M592.00,1221.07 Q598.57,1221.90 596.00,1228.00 Q598.57,1234.10 592.00,1234.93 Q588.00,1240.20 584.00,1234.93 Q577.43,1234.10 580.00,1228.00 Q577.43,1221.90 584.00,1221.07 Q588.00,1215.80 592.00,1221.07 Z" fill="#f2f2f2" stroke="#111" stroke-width="1.5" stroke-linejoin="round"/><path d="M584.50,1220.50 Q580.50,1228.00 584.50,1235.50" fill="none" stroke="#333" stroke-width="1"/><path d="M586.00,1226.00 L589.00,1225.50 M586.00,1231.00 L589.00,1230.50" fill="none" stroke="#555" stroke-width="0.8"/><line x1="356" y1="1152" x2="392.5" y2="1155.6" stroke="#fff" stroke-opacity="0.75" stroke-width="5.2"/><line x1="356" y1="1152" x2="392.5" y2="1155.6" stroke="#5a5a5a" stroke-width="2.6" stroke-dasharray="6,4"/><polygon points="402.5,1156.6 392.0,1161.1 393.1,1150.1" fill="#5a5a5a"/><rect x="348.00" y="1149.00" width="6.00" height="4" rx="2" fill="#777" stroke="#111" stroke-width="1.1"/><polygon points="346.70,1145.28 343.30,1144.50 340.90,1145.80 339.50,1150.35 340.30,1155.68 344.00,1157.50 347.50,1156.59 349.30,1152.56 348.70,1148.14" fill="#555" stroke="#111" stroke-width="1.2" stroke-linejoin="round"/><line x1="344.00" y1="1145.54" x2="344.50" y2="1156.98" stroke="#222" stroke-width="1"/><line x1="347.50" y1="1149.70" x2="344.30" y2="1149.70" stroke="#333" stroke-width="0.9"/><line x1="347.50" y1="1153.86" x2="344.30" y2="1153.86" stroke="#333" stroke-width="0.9"/><line x1="661" y1="1175.5" x2="592.9" y2="1168.6" stroke="#fff" stroke-opacity="0.75" stroke-width="5.2"/><line x1="661" y1="1175.5" x2="592.9" y2="1168.6" stroke="#5a5a5a" stroke-width="2.6" stroke-dasharray="6,4"/><polygon points="583,1167.6 593.5,1163.1 592.4,1174.1" fill="#5a5a5a"/><rect x="666.50" y="1174.70" width="7.00" height="3.6" fill="#666" stroke="#222" stroke-width="0.8"/><ellipse cx="675.00" cy="1176.5" rx="4.2" ry="8" fill="#fff" stroke="#222" stroke-width="1.3"/><ellipse cx="673.00" cy="1176.5" rx="3.15" ry="6.80" fill="#fff" stroke="#222" stroke-width="1.1"/>
<polyline points="1111.2,1018.5 1111.2,1074 1448,1084.7 1448,1018.5" fill="none" stroke="#111" stroke-width="3" stroke-linejoin="round"/><polyline points="1448,1084.7 1480,1064.7 1480,1018.5" fill="none" stroke="#111" stroke-width="2.6" stroke-linejoin="round"/><line x1="1125.3" y1="1047.3" x2="1150.7" y2="1030.8" stroke="#2a2a2a" stroke-width="1.3" stroke-linecap="round"/><line x1="1141.3" y1="1064.7" x2="1166.7" y2="1047.3" stroke="#2a2a2a" stroke-width="1.3" stroke-linecap="round"/><line x1="1268" y1="1050.5" x2="1292" y2="1034.5" stroke="#2a2a2a" stroke-width="1.3" stroke-linecap="round"/><line x1="1261.3" y1="1067.3" x2="1286.7" y2="1051.3" stroke="#2a2a2a" stroke-width="1.3" stroke-linecap="round"/><line x1="1397.3" y1="1063.3" x2="1432" y2="1038" stroke="#2a2a2a" stroke-width="1.3" stroke-linecap="round"/><line x1="1417.3" y1="1071.9" x2="1440" y2="1055.3" stroke="#2a2a2a" stroke-width="1.3" stroke-linecap="round"/><rect x="1204" y="1078.6" width="12" height="62.40000000000009" fill="#e9e9e9"/><path d="M1204,1078.6 L1204,1141 M1216,1141 L1216,1078.6" fill="none" stroke="#111" stroke-width="1.7"/><use href="#heater" transform="translate(1182.7,1143.3) scale(0.95)"/><path d="M1338.7,1083 L1338.7,1221.7 A5.2999999999999545,5.2999999999999545 0 0 0 1349.3,1221.7 L1349.3,1083 Z" fill="#e9e9e9"/><path d="M1338.7,1083 L1338.7,1221.7 A5.2999999999999545,5.2999999999999545 0 0 0 1349.3,1221.7 L1349.3,1083" fill="none" stroke="#111" stroke-width="1.7"/><circle cx="1344" cy="1159" r="5.5" fill="#ddd" stroke="#111" stroke-width="1.5"/><circle cx="1353" cy="1162" r="1.8" fill="none" stroke="#222"/><circle cx="1362" cy="1167" r="1.8" fill="none" stroke="#222"/><path d="M1355.80,1208.42 Q1362.04,1209.20 1359.60,1215.00 Q1362.04,1220.80 1355.80,1221.58 Q1352.00,1226.59 1348.20,1221.58 Q1341.96,1220.80 1344.40,1215.00 Q1341.96,1209.20 1348.20,1208.42 Q1352.00,1203.41 1355.80,1208.42 Z" fill="#f2f2f2" stroke="#111" stroke-width="1.5" stroke-linejoin="round"/><path d="M1348.67,1207.88 Q1344.88,1215.00 1348.67,1222.12" fill="none" stroke="#333" stroke-width="1"/><path d="M1350.10,1213.10 L1352.95,1212.62 M1350.10,1217.85 L1352.95,1217.38" fill="none" stroke="#555" stroke-width="0.8"/><path d="M1241,1158 Q1198,1205 1236,1248" fill="none" stroke="#fff" stroke-width="5"/><path d="M1241,1158 Q1198,1205 1236,1248" fill="none" stroke="#666" stroke-width="2.4" stroke-dasharray="5,3"/><polygon points="1244,1152 1233,1160 1243,1164" fill="#666"/><polygon points="1238,1254 1229,1243 1240,1242" fill="#666"/>
</svg>
</body></html>
